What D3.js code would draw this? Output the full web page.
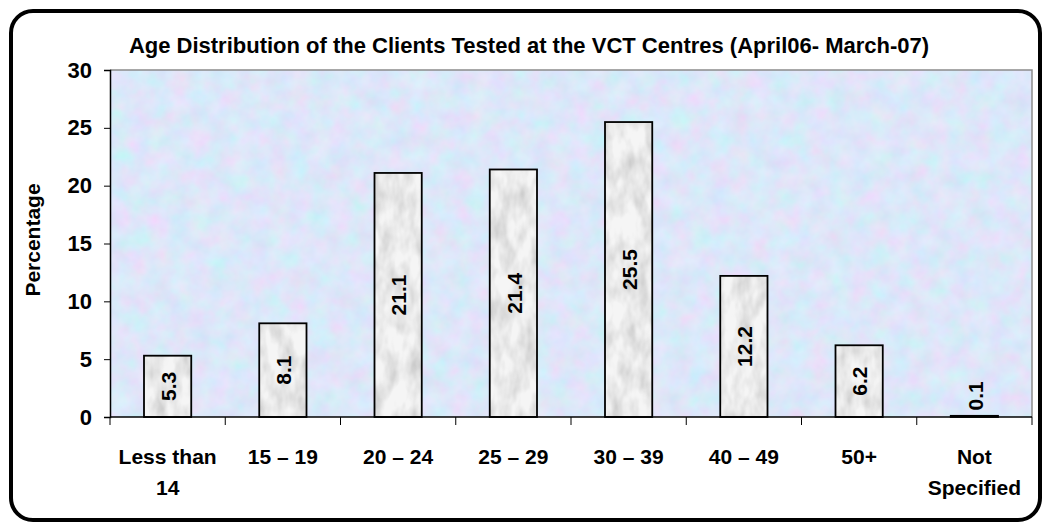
<!DOCTYPE html>
<html>
<head>
<meta charset="utf-8">
<script src="https://cdn.jsdelivr.net/npm/d3@7"></script>
<style>
  body { margin: 0; background: #fff; }
  svg { display: block; font-family: "Liberation Sans", Arial, sans-serif; }
</style>
</head>
<body>
<svg id="chart" width="1047" height="529"></svg>
<script>
// chart data
const categories = ['Less than 14', '15 – 19', '20 – 24', '25 – 29', '30 – 39', '40 – 49', '50+', 'Not Specified'];
const catLines = [['Less than', '14'], ['15 – 19'], ['20 – 24'], ['25 – 29'], ['30 – 39'], ['40 – 49'], ['50+'], ['Not', 'Specified']];
const percentages = [5.3, 8.1, 21.1, 21.4, 25.5, 12.2, 6.2, 0.1];
const yTicks = [0, 5, 10, 15, 20, 25, 30];

const svg = d3.select('#chart');
const margin = { left: 110, right: 15, top: 70, bottom: 112 };
const width = 1047, height = 529;
const plotW = width - margin.left - margin.right;
const plotH = height - margin.top - margin.bottom;

const defs = svg.append('defs');

// pastel mottled background texture
const bgF = defs.append('filter').attr('id', 'bgTex').attr('x', 0).attr('y', 0).attr('width', 1).attr('height', 1);
bgF.append('feTurbulence').attr('type', 'fractalNoise').attr('baseFrequency', 0.05).attr('numOctaves', 3).attr('seed', 4).attr('result', 'n');
bgF.append('feColorMatrix').attr('in', 'n').attr('type', 'matrix')
  .attr('values', '0.4 -0.2 0 0 0.67  -0.1 0.3 0 0 0.74  0 0 0.15 0 0.885  0 0 0 0 1');

// marble texture for bars
const barF = defs.append('filter').attr('id', 'barTex').attr('x', 0).attr('y', 0).attr('width', 1).attr('height', 1);
barF.append('feTurbulence').attr('type', 'fractalNoise').attr('baseFrequency', '0.07 0.035').attr('numOctaves', 3).attr('seed', 9).attr('result', 'n');
barF.append('feColorMatrix').attr('in', 'n').attr('type', 'matrix')
  .attr('values', '0.9 0 0 0 0.4  0.9 0 0 0 0.4  0.9 0 0 0 0.4  0 0 0 0 1').attr('result', 'g');
barF.append('feComposite').attr('in', 'g').attr('in2', 'SourceGraphic').attr('operator', 'in');

// outer rounded frame
svg.append('rect')
  .attr('x', 11).attr('y', 11).attr('width', 1029).attr('height', 509)
  .attr('rx', 22).attr('fill', '#fff').attr('stroke', '#000').attr('stroke-width', 4);

const g = svg.append('g').attr('transform', `translate(${margin.left},${margin.top})`);

const x = d3.scaleBand().domain(categories).range([0, plotW]).paddingInner(0.59).paddingOuter(0.295);
const y = d3.scaleLinear().domain([0, 30]).range([plotH, 0]);

// plot area background
g.append('rect').attr('width', plotW).attr('height', plotH).attr('fill', '#c3d4f5');
g.append('rect').attr('width', plotW).attr('height', plotH).attr('filter', 'url(#bgTex)').attr('opacity', 0.8);
g.append('path')
  .attr('d', `M0,0H${plotW}V${plotH}`)
  .attr('fill', 'none').attr('stroke', '#8c8c8c').attr('stroke-width', 1.5);

// bars
const bars = g.append('g').selectAll('g').data(percentages).join('g');
bars.append('rect')
  .attr('x', (d, i) => x(categories[i]))
  .attr('y', d => y(d))
  .attr('width', x.bandwidth())
  .attr('height', d => plotH - y(d))
  .attr('fill', '#e4e4e4');
bars.append('rect')
  .attr('x', (d, i) => x(categories[i]))
  .attr('y', d => y(d))
  .attr('width', x.bandwidth())
  .attr('height', d => plotH - y(d))
  .attr('filter', 'url(#barTex)').attr('opacity', 0.65);
bars.append('rect')
  .attr('x', (d, i) => x(categories[i]))
  .attr('y', d => y(d))
  .attr('width', x.bandwidth())
  .attr('height', d => plotH - y(d))
  .attr('fill', 'none').attr('stroke', '#000').attr('stroke-width', 1.8);

// value labels, rotated
bars.append('text')
  .attr('transform', (d, i) => {
    const cx = x(categories[i]) + x.bandwidth() / 2;
    const h = plotH - y(d);
    const cy = h > 40 ? y(d) + h / 2 : y(d) - 20;
    return `translate(${cx + 1},${cy}) rotate(-90)`;
  })
  .attr('text-anchor', 'middle')
  .attr('dy', '0.35em')
  .attr('font-size', 21).attr('font-weight', 'bold')
  .text(d => d);

// y axis
const yAxis = g.append('g').call(d3.axisLeft(y).tickValues(yTicks).tickSize(6).tickPadding(12));
yAxis.select('.domain').attr('stroke', '#000').attr('stroke-width', 1.5);
yAxis.selectAll('.tick line').attr('stroke', '#000');
yAxis.selectAll('.tick text').attr('font-size', 22).attr('font-weight', 'bold').attr('fill', '#000')
  .attr('font-family', '"Liberation Sans", Arial, sans-serif');

// x axis line with ticks between categories
const xAxis = g.append('g').attr('transform', `translate(0,${plotH})`);
xAxis.append('line').attr('x1', 0).attr('x2', plotW).attr('stroke', '#000').attr('stroke-width', 1.5);
const step = x.step();
xAxis.selectAll('.sep').data(d3.range(categories.length + 1)).join('line')
  .attr('x1', i => i * step).attr('x2', i => i * step)
  .attr('y1', 0).attr('y2', 8).attr('stroke', '#000').attr('stroke-width', 1);

// category labels
const labels = xAxis.selectAll('.cat').data(categories).join('text')
  .attr('text-anchor', 'middle')
  .attr('font-size', 21).attr('font-weight', 'bold')
  .attr('transform', d => `translate(${x(d) + x.bandwidth() / 2},47)`);
labels.each(function (d, i) {
  d3.select(this).selectAll('tspan').data(catLines[i]).join('tspan')
    .attr('x', 0).attr('dy', (t, j) => j === 0 ? 0 : 31)
    .text(t => t);
});

// y axis title
svg.append('text')
  .attr('transform', `translate(33,240) rotate(-90)`)
  .attr('text-anchor', 'middle').attr('dy', '0.35em')
  .attr('font-size', 21).attr('font-weight', 'bold')
  .text('Percentage');

// title
svg.append('text')
  .attr('x', 529).attr('y', 53)
  .attr('text-anchor', 'middle')
  .attr('font-size', 22).attr('font-weight', 'bold')
  .text('Age Distribution of the Clients Tested at the VCT Centres (April06- March-07)');
</script>
</body>
</html>
